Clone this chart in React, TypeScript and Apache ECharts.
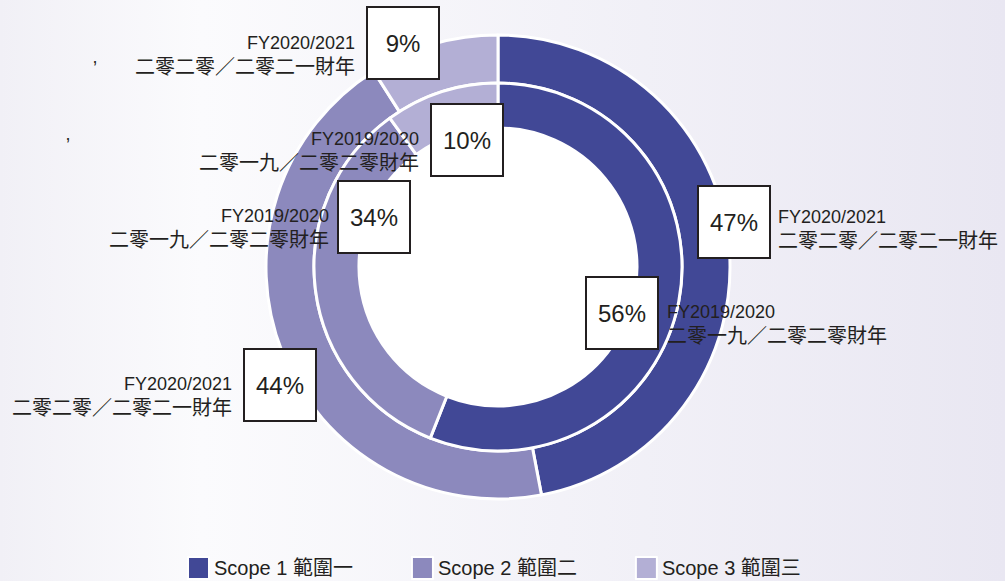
import React, { useEffect, useRef } from "react";
import * as echarts from "echarts";

const scopes = ["Scope 1 範圍一", "Scope 2 範圍二", "Scope 3 範圍三"];
const fy2021 = [47, 44, 9];
const fy2020 = [56, 34, 10];
const colors = ["#414896", "#8c89bd", "#b3afd5"];
const outerYear = ["FY2020/2021", "二零二零／二零二一財年"];
const innerYear = ["FY2019/2020", "二零一九／二零二零財年"];

// label placements (percent box centre) per ring, per data index
const outerBox = [[734, 222], [280, 385], [403, 43]];
const innerBox = [[622, 313], [374, 217], [467, 140]];
// year text placement: [x, y, align]
const outerText: [number, number, string][] = [[778, 229, "left"], [232, 396, "right"], [355, 55, "right"]];
const innerText: [number, number, string][] = [[667, 324, "left"], [329, 228, "right"], [419, 151, "right"]];

const CX = 498;
const CY = 267;
const FONT = "'Liberation Sans', Arial, 'Noto Sans CJK TC', sans-serif";
const INK = "#231f20";

export default function App() {
  const ref = useRef<HTMLDivElement>(null);
  useEffect(() => {
    document.body.style.margin = "0";
    const chart = echarts.init(ref.current!, null, { renderer: "svg" });
    const boxLabel = {
      show: true,
      formatter: "{c}%",
      color: INK,
      fontSize: 24,
      fontFamily: FONT,
      backgroundColor: "#ffffff",
      borderColor: INK,
      borderWidth: 2,
      width: 70,
      height: 70,
      lineHeight: 70,
      padding: 0,
      align: "center",
      verticalAlign: "middle",
    };
    const yearText = (pos: [number, number, string][], yr: string[]) =>
      pos.map((p) => ({
        type: "text",
        x: p[0],
        y: p[1],
        z: 100,
        style: {
          text: `{a|${yr[0]}}\n{b|${yr[1]}}`,
          align: p[2],
          verticalAlign: "middle",
          fill: INK,
          rich: {
            a: { fontSize: 18, fontFamily: FONT, lineHeight: 24, fill: INK, align: p[2] },
            b: { fontSize: 20, fontFamily: FONT, lineHeight: 24, fill: INK, align: p[2] },
          },
        },
      }));
    chart.setOption({
      animation: false,
      color: colors,
      legend: {
        data: scopes,
        left: 187,
        top: 556,
        padding: 0,
        itemWidth: 21,
        itemHeight: 22,
        itemGap: 58,
        icon: "rect",
        selectedMode: false,
        textStyle: { fontSize: 20, fontFamily: FONT, color: INK, lineHeight: 22 },
      },
      graphic: [
        {
          type: "rect",
          z: -10,
          silent: true,
          shape: { x: 0, y: 0, width: 1005, height: 581 },
          style: {
            fill: new echarts.graphic.LinearGradient(0, 0, 1, 0, [
              { offset: 0, color: "#f1f0f6" },
              { offset: 0.2, color: "#fbfbfd" },
              { offset: 1, color: "#e9e7f2" },
            ]),
          },
        },
        {
          type: "circle",
          z: -5,
          silent: true,
          shape: { cx: CX, cy: CY, r: 141 },
          style: { fill: "#ffffff" },
        },
        ...yearText(outerText, outerYear),
        ...yearText(innerText, innerYear),
        { type: "text", x: 95, y: 57, z: 100, style: { text: ",", fontSize: 18, fontFamily: FONT, fill: INK, align: "center", verticalAlign: "middle" } },
        { type: "text", x: 68, y: 134, z: 100, style: { text: ",", fontSize: 18, fontFamily: FONT, fill: INK, align: "center", verticalAlign: "middle" } },
      ],
      series: [
        {
          type: "pie",
          name: "FY2020/2021",
          center: [CX, CY],
          radius: [184, 232],
          startAngle: 90,
          clockwise: true,
          avoidLabelOverlap: false,
          silent: true,
          itemStyle: { borderColor: "#ffffff", borderWidth: 3 },
          label: boxLabel,
          labelLine: { show: false },
          labelLayout: (p: any) => ({ x: outerBox[p.dataIndex][0], y: outerBox[p.dataIndex][1], align: "center", verticalAlign: "middle" }),
          data: scopes.map((n, i) => ({ name: n, value: fy2021[i] })),
          z: 3,
        },
        {
          type: "pie",
          name: "FY2019/2020",
          center: [CX, CY],
          radius: [139, 184],
          startAngle: 90,
          clockwise: true,
          avoidLabelOverlap: false,
          silent: true,
          itemStyle: { borderColor: "#ffffff", borderWidth: 3 },
          label: boxLabel,
          labelLine: { show: false },
          labelLayout: (p: any) => ({ x: innerBox[p.dataIndex][0], y: innerBox[p.dataIndex][1], align: "center", verticalAlign: "middle" }),
          data: scopes.map((n, i) => ({ name: n, value: fy2020[i] })),
          z: 3,
        },
      ],
    });
    return () => chart.dispose();
  }, []);
  return <div ref={ref} style={{ width: 1005, height: 581 }} />;
}
